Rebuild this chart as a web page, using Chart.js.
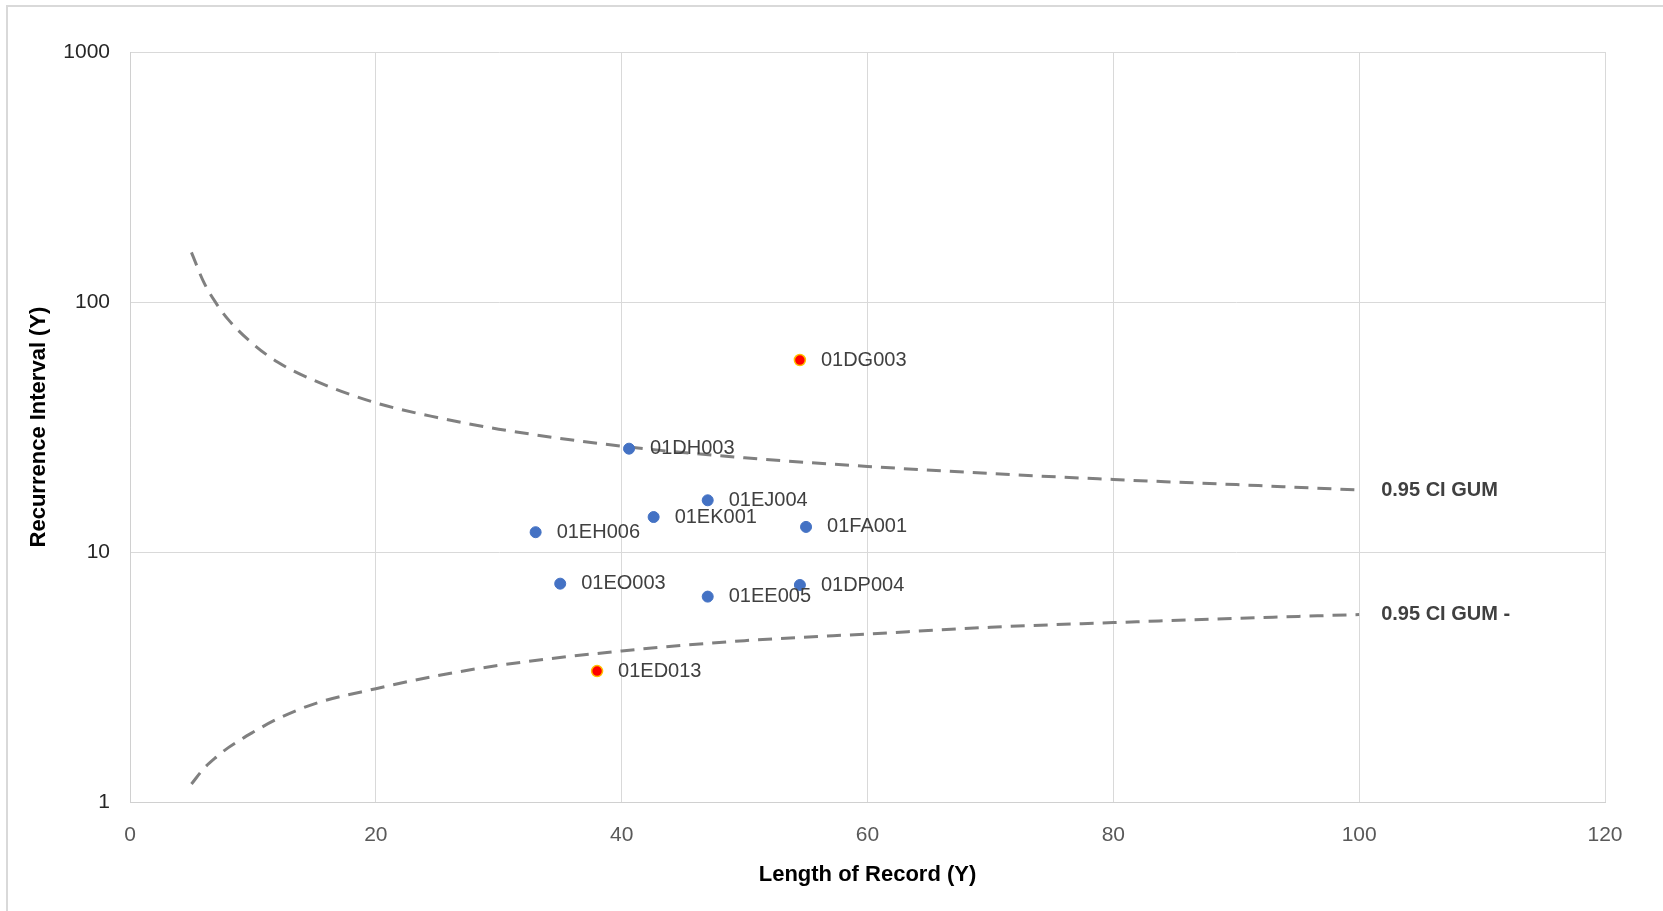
<!DOCTYPE html>
<html>
<head>
<meta charset="utf-8">
<script src="https://cdn.jsdelivr.net/npm/chart.js@4/dist/chart.umd.min.js"></script>
<style>
  html, body { margin: 0; padding: 0; background: #ffffff; }
  #wrap { width: 1663px; height: 911px; }
</style>
</head>
<body>
<div id="wrap"><canvas id="c" width="1663" height="911"></canvas></div>
<script>
// ---- data ----
const blueNames     = ['01DH003','01EJ004','01EK001','01EH006','01FA001','01EO003','01EE005','01DP004'];
const blueYears     = [40.6, 47, 42.6, 33, 55, 35, 47, 54.5];
const blueIntervals = [25.9, 16.1, 13.8, 12.0, 12.6, 7.47, 6.63, 7.38];

const redNames      = ['01DG003','01ED013'];
const redYears      = [54.5, 38];
const redIntervals  = [58.6, 3.34];

const ciYears = [5, 6, 7, 8, 10, 12, 15, 20, 25, 30, 40, 50, 60, 70, 80, 90, 100];
const ciUpper = [158, 120, 99, 85, 68, 57.5, 48.5, 39.5, 34.5, 31, 26.5, 23.8, 22, 20.6, 19.5, 18.6, 17.7];
const ciLower = [1.18, 1.36, 1.51, 1.65, 1.90, 2.15, 2.47, 2.84, 3.2, 3.52, 4.02, 4.42, 4.7, 5.0, 5.22, 5.43, 5.62];
const ciNames = ['0.95 CI GUM', '0.95 CI GUM -'];

const xTicks = [0, 20, 40, 60, 80, 100, 120];
const yTicks = [1, 10, 100, 1000];
const xTitle = 'Length of Record (Y)';
const yTitle = 'Recurrence Interval (Y)';

// ---- build datasets ----
const toPts = (xs, ys) => xs.map((x, i) => ({ x: x, y: ys[i] }));

const pointLabelPlugin = {
  id: 'pointLabels',
  beforeDraw(chart) {
    const ctx = chart.ctx;
    ctx.save();
    ctx.fillStyle = '#ffffff';
    ctx.fillRect(0, 0, chart.width, chart.height);
    ctx.strokeStyle = '#D9D9D9';
    ctx.lineWidth = 2;
    ctx.strokeRect(7, 6, 1700, 1000);
    ctx.restore();
  },
  afterDatasetsDraw(chart) {
    const ctx = chart.ctx;
    ctx.save();
    ctx.textBaseline = 'middle';
    ctx.textAlign = 'left';
    chart.data.datasets.forEach((ds, di) => {
      const meta = chart.getDatasetMeta(di);
      if (ds.pointNames) {
        ctx.font = '20px "Liberation Sans", Arial, sans-serif';
        ctx.fillStyle = '#404040';
        meta.data.forEach((el, i) => {
          ctx.fillText(ds.pointNames[i], el.x + 21, el.y);
        });
      }
      if (ds.endName) {
        const el = meta.data[meta.data.length - 1];
        ctx.font = 'bold 20px "Liberation Sans", Arial, sans-serif';
        ctx.fillStyle = '#404040';
        ctx.fillText(ds.endName, el.x + 22, el.y);
      }
    });
    ctx.restore();
  }
};

const lineStyle = {
  showLine: true,
  borderColor: '#808080',
  borderWidth: 3,
  borderDash: [14, 9],
  pointRadius: 0,
  pointHoverRadius: 0,
  fill: false,
  cubicInterpolationMode: 'monotone'
};

new Chart(document.getElementById('c'), {
  type: 'scatter',
  data: {
    datasets: [
      {
        label: 'red',
        data: toPts(redYears, redIntervals),
        pointNames: redNames,
        backgroundColor: '#FF0000',
        borderColor: '#FFC000',
        borderWidth: 1.5,
        pointRadius: 5.5
      },
      {
        label: 'blue',
        data: toPts(blueYears, blueIntervals),
        pointNames: blueNames,
        backgroundColor: '#4472C4',
        borderColor: '#4472C4',
        borderWidth: 1,
        pointRadius: 5.5
      },
      Object.assign({ label: ciNames[0], data: toPts(ciYears, ciUpper), endName: ciNames[0] }, lineStyle),
      Object.assign({ label: ciNames[1], data: toPts(ciYears, ciLower), endName: ciNames[1] }, lineStyle)
    ]
  },
  options: {
    responsive: false,
    animation: false,
    devicePixelRatio: 1,
    layout: { padding: { left: 0, top: 52, right: 58, bottom: 0 } },
    plugins: {
      legend: { display: false },
      tooltip: { enabled: false },
      title: { display: false }
    },
    scales: {
      x: {
        type: 'linear',
        min: 0,
        max: 120,
        afterBuildTicks(scale) { scale.ticks = xTicks.map(v => ({ value: v })); },
        afterFit(scale) { scale.height = 109; },
        grid: { color: '#D9D9D9', lineWidth: 1, drawTicks: false },
        border: { display: true, color: '#D0D0D0', width: 1 },
        ticks: {
          padding: 21,
          color: '#595959',
          font: { family: '"Liberation Sans", Arial, sans-serif', size: 21 },
          maxRotation: 0,
          callback: v => String(v)
        },
        title: {
          display: true,
          text: xTitle,
          color: '#000000',
          font: { family: '"Liberation Sans", Arial, sans-serif', size: 22, weight: 'bold' },
          padding: { top: 0, bottom: 23 }
        }
      },
      y: {
        type: 'logarithmic',
        min: 1,
        max: 1000,
        afterBuildTicks(scale) { scale.ticks = yTicks.map(v => ({ value: v })); },
        afterFit(scale) { scale.width = 130; },
        grid: { color: '#D9D9D9', lineWidth: 1, drawTicks: false },
        border: { display: true, color: '#D0D0D0', width: 1 },
        ticks: {
          padding: 20,
          color: '#262626',
          font: { family: '"Liberation Sans", Arial, sans-serif', size: 21 },
          callback: v => String(v)
        },
        title: {
          display: true,
          text: yTitle,
          color: '#000000',
          font: { family: '"Liberation Sans", Arial, sans-serif', size: 22, weight: 'bold' },
          padding: { top: 26, bottom: 0 }
        }
      }
    }
  },
  plugins: [pointLabelPlugin]
});
</script>
</body>
</html>
